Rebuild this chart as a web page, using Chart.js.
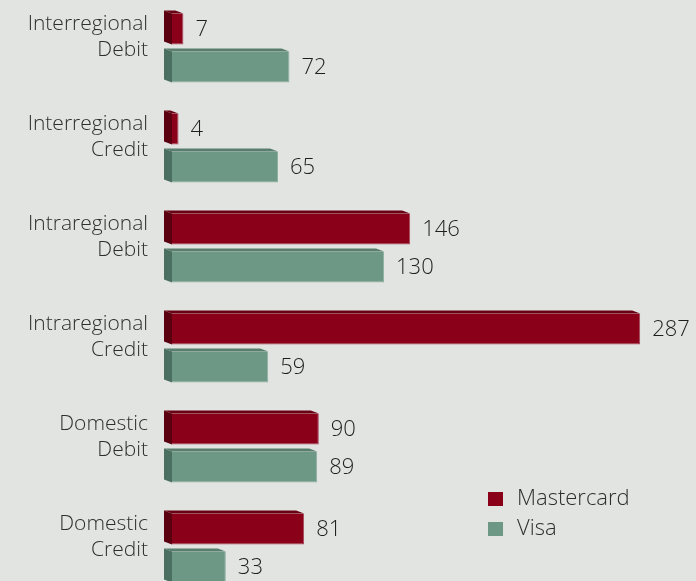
<!DOCTYPE html>
<html>
<head>
<meta charset="utf-8">
<script src="https://cdn.jsdelivr.net/npm/chart.js@4/dist/chart.umd.min.js"></script>
<style>
  html, body { margin: 0; padding: 0; background: #e2e4e1; overflow: hidden; width: 696px; height: 581px; }
  #wrap { position: absolute; left: 0; top: -2px; width: 696px; height: 600px; }
</style>
</head>
<body>
<div id="wrap"><canvas id="c"></canvas></div>
<script>
const categories = [
  ['Interregional', 'Debit'],
  ['Interregional', 'Credit'],
  ['Intraregional', 'Debit'],
  ['Intraregional', 'Credit'],
  ['Domestic', 'Debit'],
  ['Domestic', 'Credit']
];
const seriesNames = ['Mastercard', 'Visa'];
const mastercardValues = [7, 4, 146, 287, 90, 81];
const visaValues = [72, 65, 130, 59, 89, 33];

const FONT = '"Open Sans", Lato, sans-serif';
const palette = [
  { front: '#8a0019', side: '#5a0010', top: '#6a0013', edge: '#a8455a' },
  { front: '#6e9886', side: '#4b6f60', top: '#587f6e', edge: '#8db0a1' }
];
const DX = 8, DY = 3;

const box3d = {
  id: 'box3d',
  beforeDatasetsDraw(chart) {
    const ctx = chart.ctx;
    chart.data.datasets.forEach((ds, di) => {
      const meta = chart.getDatasetMeta(di);
      const col = palette[di];
      meta.data.forEach(el => {
        const p = el.getProps(['x', 'y', 'base', 'height'], true);
        const x0 = p.base, x1 = p.x;
        const y0 = p.y - p.height / 2, y1 = p.y + p.height / 2;
        ctx.save();
        ctx.fillStyle = col.top;
        ctx.beginPath();
        ctx.moveTo(x0 - DX, y0 - DY);
        ctx.lineTo(x1 - DX, y0 - DY);
        ctx.lineTo(x1, y0);
        ctx.lineTo(x0, y0);
        ctx.closePath();
        ctx.fill();
        ctx.fillStyle = col.side;
        ctx.beginPath();
        ctx.moveTo(x0 - DX, y0 - DY);
        ctx.lineTo(x0, y0);
        ctx.lineTo(x0, y1);
        ctx.lineTo(x0 - DX, y1 - DY);
        ctx.closePath();
        ctx.fill();
        ctx.restore();
      });
    });
  },
  afterDatasetsDraw(chart) {
    const ctx = chart.ctx;
    ctx.save();
    ctx.font = '300 22px ' + FONT;
    ctx.fillStyle = '#1e1e1e';
    ctx.textAlign = 'left';
    ctx.textBaseline = 'middle';
    chart.data.datasets.forEach((ds, di) => {
      const meta = chart.getDatasetMeta(di);
      meta.data.forEach((el, i) => {
        const p = el.getProps(['x', 'y'], true);
        ctx.fillText(String(ds.data[i]), p.x + 12, p.y + 1);
      });
    });
    ctx.restore();
  },
  afterDraw(chart) {
    const ctx = chart.ctx;
    ctx.save();
    ctx.font = '300 22px ' + FONT;
    ctx.textAlign = 'left';
    ctx.textBaseline = 'middle';
    const items = [
      { label: seriesNames[0], color: palette[0].front, y: 501 },
      { label: seriesNames[1], color: palette[1].front, y: 531 }
    ];
    items.forEach(it => {
      ctx.fillStyle = it.color;
      ctx.fillRect(488, it.y - 7, 15, 14);
      ctx.fillStyle = '#2e2e2e';
      ctx.fillText(it.label, 517, it.y);
    });
    ctx.restore();
  }
};

new Chart(document.getElementById('c'), {
  type: 'bar',
  data: {
    labels: categories,
    datasets: [
      { label: seriesNames[0], data: mastercardValues, backgroundColor: palette[0].front,
        borderColor: palette[0].edge, borderWidth: { top: 0, bottom: 1, right: 1, left: 0 }, borderSkipped: false },
      { label: seriesNames[1], data: visaValues, backgroundColor: palette[1].front,
        borderColor: palette[1].edge, borderWidth: { top: 0, bottom: 1, right: 1, left: 0 }, borderSkipped: false }
    ]
  },
  options: {
    indexAxis: 'y',
    responsive: true,
    maintainAspectRatio: false,
    animation: false,
    categoryPercentage: 0.76,
    barPercentage: 0.816,
    layout: { padding: { left: 0, right: 2, top: 0, bottom: 0 } },
    plugins: { legend: { display: false }, tooltip: { enabled: false } },
    scales: {
      x: { display: false, min: 0, max: 320 },
      y: {
        afterFit(scale) { scale.width = 172; scale.paddingTop = 0; scale.paddingBottom = 0; },
        grid: { display: false, drawTicks: false },
        border: { display: false },
        ticks: {
          padding: 24,
          labelOffset: -11,
          color: '#2e2e2e',
          font: { family: FONT, size: 21, weight: '300', lineHeight: 1.2 }
        }
      }
    }
  },
  plugins: [box3d]
});
</script>
</body>
</html>
